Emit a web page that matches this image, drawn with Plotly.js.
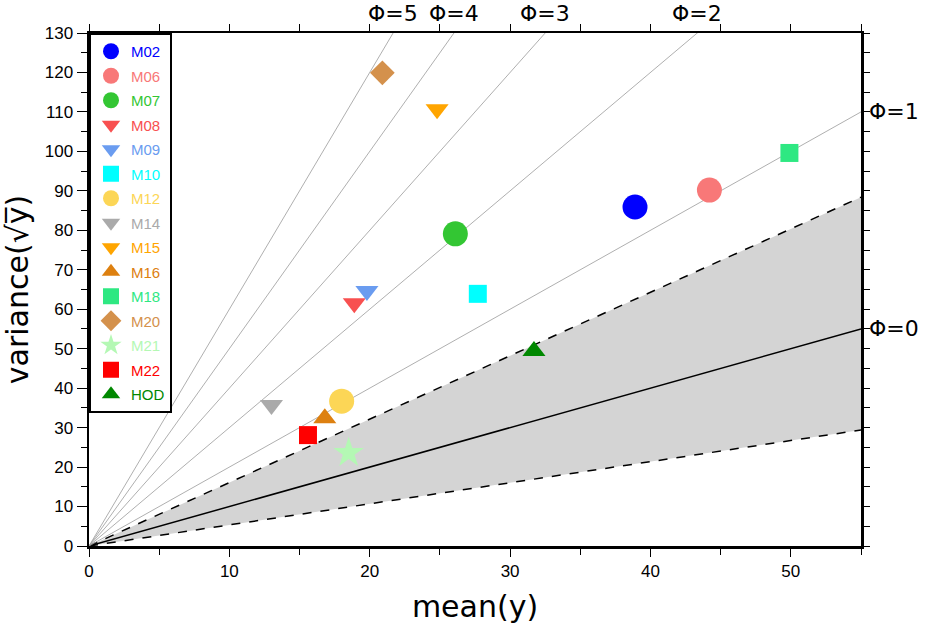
<!DOCTYPE html>
<html>
<head>
<meta charset="utf-8">
<script src="https://cdn.plot.ly/plotly-3.0.1.min.js"></script>
<style>
  html, body { margin: 0; padding: 0; background: #fff; }
  #chart { width: 932px; height: 631px; }
</style>
</head>
<body>
<div id="chart"></div>
<script>
// models
const names = ["M02", "M06", "M07", "M08", "M09", "M10", "M12", "M14", "M15", "M16", "M18", "M20", "M21", "M22", "HOD"];
const meanY = [38.9, 44.2, 26.1, 18.9, 19.8, 27.7, 18.0, 13.0, 24.8, 16.8, 49.9, 20.9, 18.5, 15.6, 31.7];
const varY = [85.9, 90.2, 79.1, 61.5, 64.6, 63.9, 36.7, 35.7, 110.7, 32.4, 99.6, 119.9, 23.6, 28.1, 49.4];
const colors = ["#0000ff", "#f87878", "#33c633", "#f85050", "#6a9cf0", "#00ffff", "#fcd656", "#aaaaaa", "#ffa500", "#dd8010", "#2ee882", "#d4914c", "#b4f8b4", "#ff0000", "#008800"];
const symbols = ["circle", "circle", "circle", "triangle-down", "triangle-down", "square", "circle", "triangle-down", "triangle-down", "triangle-up", "square", "diamond", "star", "square", "triangle-up"];
const sizes = [25, 25, 25, 20, 20, 18, 25, 20, 20, 20, 18, 19, 23, 18, 20];

// reference lines: variance = (1 + phi) * mean
const phis = [0, 1, 2, 3, 4, 5];
const xMax = 55, yMax = 130;

// shaded band (dashed edges), values at mean = 55
const bandX = [0, 55];
const bandLow = [0, 29.4];
const bandHigh = [0, 88.4];

const traces = [];

traces.push({
  x: bandX, y: bandLow, mode: "lines", type: "scatter",
  line: { color: "#000", width: 1.5, dash: "dash" },
  hoverinfo: "skip", showlegend: false,
});
traces.push({
  x: bandX, y: bandHigh, mode: "lines", type: "scatter",
  fill: "tonexty", fillcolor: "#d4d4d4",
  line: { color: "#000", width: 1.5, dash: "dash" },
  hoverinfo: "skip", showlegend: false,
});

for (const p of phis) {
  traces.push({
    x: [0, xMax], y: [0, xMax * (1 + p)], mode: "lines", type: "scatter",
    line: p === 0 ? { color: "#000", width: 1.5 } : { color: "#9a9a9a", width: 0.8 },
    hoverinfo: "skip", showlegend: false,
  });
}

names.forEach((n, i) => {
  traces.push({
    x: [meanY[i]], y: [varY[i]], mode: "markers", type: "scatter",
    name: `<span style="color:${colors[i]}">${n}</span>`,
    legendgroup: n,
    marker: { symbol: symbols[i], size: sizes[i], color: colors[i], line: { width: 0 } },
  });
});

// dummy trace for mirrored top/right tick axes
traces.push({ x: [null], y: [null], xaxis: "x2", yaxis: "y2", showlegend: false, hoverinfo: "skip" });

const annFont = { family: "DejaVu Sans, sans-serif", size: 22, color: "#000" };
const annotations = phis.map((p) => {
  const s = 1 + p;
  if (xMax * s <= yMax) {
    return { x: xMax, y: xMax * s, xref: "x", yref: "y", text: `Φ=${p}`, showarrow: false,
      xanchor: "left", yanchor: "middle", xshift: 6, font: annFont };
  }
  return { x: yMax / s, y: yMax, xref: "x", yref: "y", text: `Φ=${p}`, showarrow: false,
    xanchor: "center", yanchor: "bottom", yshift: 5, font: annFont };
});

const tickFont = { family: "Liberation Sans, Arial, sans-serif", size: 17, color: "#000" };

const layout = {
  width: 932, height: 631,
  margin: { l: 89, r: 71, t: 33, b: 85 },
  paper_bgcolor: "#fff", plot_bgcolor: "#fff",
  showlegend: true,
  legend: {
    x: 0, y: 1, xanchor: "left", yanchor: "top",
    bgcolor: "#fff", bordercolor: "#000", borderwidth: 2,
    font: { family: "Liberation Sans, Arial, sans-serif", size: 15 },
    tracegroupgap: 2, itemwidth: 30,
  },
  xaxis: {
    range: [0, xMax], dtick: 10, tick0: 0,
    ticks: "outside", ticklen: 8, tickwidth: 1, tickcolor: "#000",
    minor: { dtick: 5, ticks: "outside", ticklen: 6, tickcolor: "#000" },
    showgrid: false, zeroline: false,
    showline: true, linecolor: "#000", linewidth: 2.5, mirror: true,
    tickfont: tickFont,
    title: { text: "mean(y)", font: { family: "DejaVu Sans, sans-serif", size: 30, color: "#000" }, standoff: 16 },
  },
  yaxis: {
    range: [0, yMax], dtick: 10, tick0: 0,
    ticks: "outside", ticklen: 10, tickwidth: 1, tickcolor: "#000",
    minor: { dtick: 5, ticks: "outside", ticklen: 6, tickcolor: "#000" },
    showgrid: false, zeroline: false,
    showline: true, linecolor: "#000", linewidth: 2.5, mirror: true,
    tickfont: tickFont,
    title: { text: "variance(√y̅)", font: { family: "DejaVu Sans, sans-serif", size: 30, color: "#000" }, standoff: 8 },
  },
  xaxis2: {
    overlaying: "x", side: "top", range: [0, xMax], dtick: 5, tick0: 0,
    ticks: "outside", ticklen: 8, tickcolor: "#000", showticklabels: false,
    showgrid: false, zeroline: false, showline: false,
  },
  yaxis2: {
    overlaying: "y", side: "right", range: [0, yMax], dtick: 5, tick0: 0,
    ticks: "outside", ticklen: 8, tickcolor: "#000", showticklabels: false,
    showgrid: false, zeroline: false, showline: false,
  },
  annotations: annotations,
};

Plotly.newPlot("chart", traces, layout, { displayModeBar: false, staticPlot: true });
</script>
</body>
</html>
